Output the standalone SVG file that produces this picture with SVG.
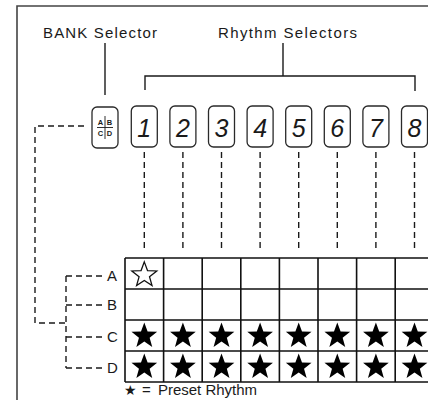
<svg xmlns="http://www.w3.org/2000/svg" width="428" height="400" viewBox="0 0 428 400">
<style>
.lbl{font-family:"Liberation Sans",Arial,sans-serif;font-size:15px;fill:#1a1a1a}
.btn{fill:#fff;stroke:#2a2a2a;stroke-width:1.3}
.dig{font-family:"Liberation Sans",Arial,sans-serif;font-style:italic;font-size:25px;fill:#1a1a1a;text-anchor:middle}
.sm{font-family:"Liberation Sans",Arial,sans-serif;font-size:7.5px;font-weight:bold;fill:#1a1a1a;text-anchor:middle}
.solid{fill:none;stroke:#1a1a1a;stroke-width:1.4}
.dash{fill:none;stroke:#1a1a1a;stroke-width:1.4;stroke-dasharray:6 4}
.grid{fill:none;stroke:#111;stroke-width:1.6}
.fs{fill:#000}
.os{fill:none;stroke:#111;stroke-width:1.2}
</style>
<defs>
<path id="star" d="M0,-12.5 L3.06,-4.21 L11.89,-3.86 L4.95,1.61 L7.35,10.11 L0,5.2 L-7.35,10.11 L-4.95,1.61 L-11.89,-3.86 L-3.06,-4.21 Z"/>
</defs>
<rect width="428" height="400" fill="#fff"/>
<g id="frame"><path d="M17,400 V6 H428" fill="none" stroke="#444" stroke-width="1.6"/></g>

<g id="title-bank"><text class="lbl" x="43" y="38" textLength="114">BANK Selector</text></g>
<g id="title-rhythm"><text class="lbl" x="218" y="38" textLength="139">Rhythm Selectors</text></g>

<g id="connectors">
<path class="solid" d="M105,43 V95"/>
<path class="solid" d="M283,43 V76 M145,90 V76 H415 V91"/>
<path class="dash" d="M84,126 H35 V323 H66"/>
<path class="dash" d="M66,276 V368"/>
<path class="dash" d="M66,276 H104 M66,305 H104 M66,337 H104 M66,368 H104"/>
<path class="dash" d="M144.3,152 V252 M182.9,152 V252 M221.5,152 V252 M260.1,152 V252 M298.7,152 V252 M337.3,152 V252 M375.9,152 V252 M414.5,152 V252"/>
</g>

<g id="bank-button">
<rect class="btn" x="92" y="107" width="26" height="41" rx="5"/>
<path d="M105,116 V139 M97,127.5 H113" stroke="#1a1a1a" stroke-width="0.9"/>
<text class="sm" x="100.5" y="125">A</text><text class="sm" x="109.5" y="125">B</text>
<text class="sm" x="100.5" y="136">C</text><text class="sm" x="109.5" y="136">D</text>
</g>

<g id="btn1"><rect class="btn" x="131.3" y="106" width="26" height="41" rx="5"/><text class="dig" x="144.3" y="137">1</text></g>
<g id="btn2"><rect class="btn" x="169.9" y="106" width="26" height="41" rx="5"/><text class="dig" x="182.9" y="137">2</text></g>
<g id="btn3"><rect class="btn" x="208.5" y="106" width="26" height="41" rx="5"/><text class="dig" x="221.5" y="137">3</text></g>
<g id="btn4"><rect class="btn" x="247.1" y="106" width="26" height="41" rx="5"/><text class="dig" x="260.1" y="137">4</text></g>
<g id="btn5"><rect class="btn" x="285.7" y="106" width="26" height="41" rx="5"/><text class="dig" x="298.7" y="137">5</text></g>
<g id="btn6"><rect class="btn" x="324.3" y="106" width="26" height="41" rx="5"/><text class="dig" x="337.3" y="137">6</text></g>
<g id="btn7"><rect class="btn" x="362.9" y="106" width="26" height="41" rx="5"/><text class="dig" x="375.9" y="137">7</text></g>
<g id="btn8"><rect class="btn" x="401.5" y="106" width="26" height="41" rx="5"/><text class="dig" x="414.5" y="137">8</text></g>

<g id="row-labels">
<text class="lbl" x="107" y="281">A</text>
<text class="lbl" x="107" y="310">B</text>
<text class="lbl" x="107" y="342">C</text>
<text class="lbl" x="107" y="373">D</text>
</g>

<g id="grid">
<path class="grid" d="M125,258 H440 M125,289 H440 M125,320 H440 M125,351 H440 M125,382 H440 M125,258 V382 M163.6,258 V382 M202.2,258 V382 M240.8,258 V382 M279.4,258 V382 M318,258 V382 M356.6,258 V382 M395.2,258 V382"/>
<use href="#star" class="os" transform="translate(144.3,275) scale(1.05)"/>
<g class="fs">
<use href="#star" transform="translate(144.3,336) scale(1.08)"/><use href="#star" transform="translate(182.9,336) scale(1.08)"/><use href="#star" transform="translate(221.5,336) scale(1.08)"/><use href="#star" transform="translate(260.1,336) scale(1.08)"/><use href="#star" transform="translate(298.7,336) scale(1.08)"/><use href="#star" transform="translate(337.3,336) scale(1.08)"/><use href="#star" transform="translate(375.9,336) scale(1.08)"/><use href="#star" transform="translate(414.5,336) scale(1.08)"/>
<use href="#star" transform="translate(144.3,367) scale(1.08)"/><use href="#star" transform="translate(182.9,367) scale(1.08)"/><use href="#star" transform="translate(221.5,367) scale(1.08)"/><use href="#star" transform="translate(260.1,367) scale(1.08)"/><use href="#star" transform="translate(298.7,367) scale(1.08)"/><use href="#star" transform="translate(337.3,367) scale(1.08)"/><use href="#star" transform="translate(375.9,367) scale(1.08)"/><use href="#star" transform="translate(414.5,367) scale(1.08)"/>
</g>
</g>

<g id="legend">
<text class="lbl" y="395"><tspan x="124" font-family="'DejaVu Sans',sans-serif" font-size="14">★</tspan><tspan x="142">=</tspan><tspan x="158" textLength="99">Preset Rhythm</tspan></text>
</g>
</svg>
